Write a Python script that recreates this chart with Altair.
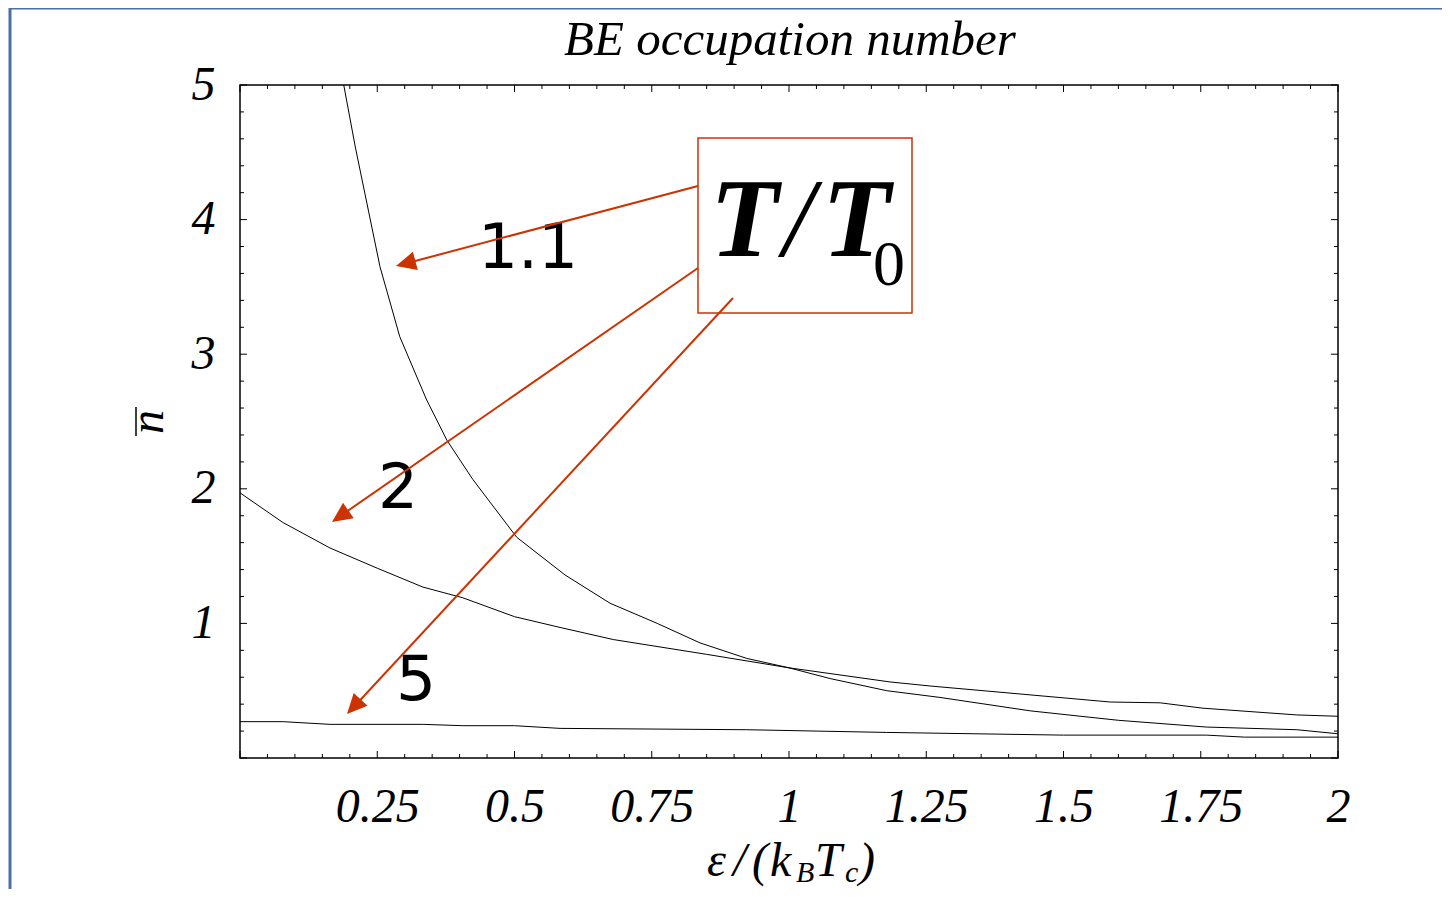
import altair as alt
import pandas as pd

# ---- data ----
x_11 = [0.189, 0.21, 0.255, 0.291, 0.34, 0.377, 0.424, 0.504, 0.592, 0.674, 0.76,
        0.838, 0.923, 1.0, 1.075, 1.178, 1.275, 1.44, 1.6, 1.76, 1.925, 2.0]
n_11 = [5.0, 4.54, 3.65, 3.13, 2.66, 2.36, 2.07, 1.64, 1.36, 1.15, 1.0,
        0.855, 0.74, 0.67, 0.59, 0.50, 0.45, 0.35, 0.28, 0.23, 0.21, 0.18]
x_2 = [0, 0.078, 0.164, 0.25, 0.333, 0.406, 0.5, 0.583, 0.68, 0.85, 1.0,
       1.184, 1.257, 1.585, 1.676, 1.754, 1.925, 2.0]
n_2 = [1.97, 1.75, 1.56, 1.41, 1.27, 1.19, 1.05, 0.97, 0.88, 0.77, 0.67,
       0.565, 0.535, 0.416, 0.41, 0.37, 0.32, 0.31]
x_5 = [0, 0.078, 0.164, 0.333, 0.406, 0.5, 0.583, 0.923, 1.178, 1.5, 1.76, 1.83, 2.0]
n_5 = [0.27, 0.27, 0.25, 0.25, 0.24, 0.24, 0.22, 0.21, 0.19, 0.17, 0.17, 0.155, 0.155]

x_labels = [0.25, 0.5, 0.75, 1, 1.25, 1.5, 1.75, 2]
y_labels = [1, 2, 3, 4, 5]
x_major = [0, 0.25, 0.5, 0.75, 1, 1.25, 1.5, 1.75, 2]
x_minor = [round(i * 0.05, 2) for i in range(41) if i % 5 != 0]
y_major = [0, 1, 2, 3, 4, 5]
y_minor = [round(i * 0.2, 1) for i in range(26) if i % 5 != 0]

curves = pd.concat([
    pd.DataFrame({"x": x_11, "n": n_11, "s": "1.1"}),
    pd.DataFrame({"x": x_2, "n": n_2, "s": "2"}),
    pd.DataFrame({"x": x_5, "n": n_5, "s": "5"}),
])

# ---- layout ----
W, H = 1098, 673
OX, OY = 240, 85  # page position of plot origin
RED = "#cc3300"
SERIF = "Liberation Serif"

xscale = alt.Scale(domain=[0, 2], nice=False, zero=False)
yscale = alt.Scale(domain=[0, 5], nice=False, zero=False)
xaxis = alt.Axis(values=x_labels, labelExpr="format(datum.value, '~g')", title=None,
                 grid=False, ticks=False, tickSize=0, domain=False,
                 labelFont=SERIF, labelFontStyle="italic", labelFontSize=48,
                 labelColor="black", labelPadding=25, labelFlush=False, labelOverlap=False)
yaxis = alt.Axis(values=y_labels, labelExpr="format(datum.value, '~g')", title=None,
                 grid=False, ticks=False, tickSize=0, domain=False,
                 labelFont=SERIF, labelFontStyle="italic", labelFontSize=48,
                 labelColor="black", labelPadding=25, labelFlush=False, labelOverlap=False)

base = pd.DataFrame({"k": [0]})


def px(v):
    return alt.value(v - OX)


def py(v):
    return alt.value(v - OY)


def txt(s, x, y, size, style="italic", weight="normal", font=SERIF, align="left",
        baseline="alphabetic", color="black", angle=0):
    return alt.Chart(base).mark_text(
        text=s, font=font, fontSize=size, fontStyle=style, fontWeight=weight,
        align=align, baseline=baseline, color=color, angle=angle
    ).encode(x=px(x), y=py(y))


def seg(x1, y1, x2, y2, color, width):
    return alt.Chart(base).mark_rule(color=color, strokeWidth=width).encode(
        x=px(x1), y=py(y1), x2=px(x2), y2=py(y2))


def head(x, y, angle):
    return alt.Chart(base).mark_point(
        shape="M0,0L-0.47,1L0.47,1Z", size=1600, filled=True, color=RED,
        opacity=1, angle=angle
    ).encode(x=px(x), y=py(y))


lines = alt.Chart(curves).mark_line(color="black", strokeWidth=1, clip=True).encode(
    x=alt.X("x:Q", scale=xscale, axis=xaxis),
    y=alt.Y("n:Q", scale=yscale, axis=yaxis),
    detail="s:N",
)


def xticks(vals, length):
    d = pd.DataFrame({"v": vals})
    b = alt.Chart(d).mark_rule(color="black", strokeWidth=1).encode(
        x=alt.X("v:Q", scale=xscale, axis=xaxis), y=alt.value(H), y2=alt.value(H - length))
    t = alt.Chart(d).mark_rule(color="black", strokeWidth=1).encode(
        x=alt.X("v:Q", scale=xscale, axis=xaxis), y=alt.value(0), y2=alt.value(length))
    return [b, t]


def yticks(vals, length):
    d = pd.DataFrame({"v": vals})
    l = alt.Chart(d).mark_rule(color="black", strokeWidth=1).encode(
        y=alt.Y("v:Q", scale=yscale, axis=yaxis), x=alt.value(0), x2=alt.value(length))
    r = alt.Chart(d).mark_rule(color="black", strokeWidth=1).encode(
        y=alt.Y("v:Q", scale=yscale, axis=yaxis), x=alt.value(W), x2=alt.value(W - length))
    return [l, r]


ticks = xticks(x_major, 7) + xticks(x_minor, 4) + yticks(y_major, 7) + yticks(y_minor, 4)

# page border (blue)
border = [
    seg(10, 8, 1500, 8, "#4a6fa5", 3),
    seg(10, 8, 10, 1000, "#4a6fa5", 3),
]

# titles
texts = [
    txt("BE occupation number", 790, 55, 49, align="center"),
    # x title pieces
    txt("ε", 707, 876, 48),
    txt("/", 733, 876, 48),
    txt("(", 752, 876, 48),
    txt("k", 770, 876, 48),
    txt("B", 796, 882, 30),
    txt("T", 815, 876, 48),
    txt("c", 845, 882, 30),
    txt(")", 859, 876, 48),
    # y title
    txt("n", 163, 422, 48, align="center", angle=270),
    seg(136, 407, 136, 436, "black", 1.5),
]

# annotation box and arrows
box = alt.Chart(base).mark_rect(fillOpacity=0, stroke=RED, strokeWidth=1.5).encode(
    x=px(698), x2=px(912), y=py(138), y2=py(313))
annots = [
    box,
    txt("T", 710, 256, 112, weight="bold"),
    txt("/", 783, 256, 112),
    txt("T", 822, 256, 112, weight="bold"),
    txt("0", 873, 285, 64, style="normal"),
    txt("1.1", 478, 268, 63, style="normal", font="DejaVu Sans"),
    txt("2", 378, 508, 63, style="normal", font="DejaVu Sans"),
    txt("5", 396, 700, 63, style="normal", font="DejaVu Sans"),
    seg(698, 186, 400, 265, RED, 2),
    seg(698, 268, 336, 519, RED, 2),
    seg(733, 298, 351, 710, RED, 2),
    head(396, 266, 255.2),
    head(332, 522, 235.2),
    head(347, 714, 222.9),
]

chart = alt.layer(lines, *ticks, *border, *texts, *annots).properties(
    width=W, height=H,
    autosize=alt.AutoSizeParams(type="none"),
    padding={"left": OX - 8, "top": OY - 8, "right": 1434 - (OX - 8) - W,
             "bottom": 881 - (OY - 8) - H},
).configure_view(stroke="black", strokeWidth=1.5)

chart.save("out.html", embed_options={"renderer": "svg", "actions": False})
